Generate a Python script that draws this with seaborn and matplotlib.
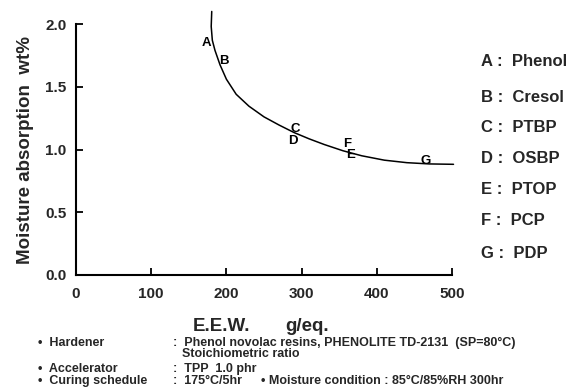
import matplotlib
matplotlib.use("Agg")
import matplotlib.pyplot as plt
import seaborn as sns
import pandas as pd

# Curve
curve_x = [180.5, 179.8, 181.3, 184.8, 191.5, 200.0, 213.0, 230.0, 250.0, 270.0,
           290.0, 310.0, 330.0, 355.0, 380.0, 410.0, 440.0, 470.0, 502.0]
curve_y = [2.10, 1.98, 1.87, 1.79, 1.675, 1.56, 1.44, 1.345, 1.26, 1.195,
           1.135, 1.085, 1.04, 0.99, 0.95, 0.915, 0.895, 0.885, 0.882]

# Point labels
point_labels = ["A", "B", "C", "D", "E", "F", "G"]
point_x = [174, 196, 292, 289, 365, 360, 465]
point_y = [1.846, 1.708, 1.16, 1.07, 0.955, 1.045, 0.911]

legend_names = ["Phenol", "Cresol", "PTBP", "OSBP", "PTOP", "PCP", "PDP"]

x_ticks = [0, 100, 200, 300, 400, 500]
y_ticks = [0.0, 0.5, 1.0, 1.5, 2.0]

sns.set_theme(style="ticks")
plt.rcParams["font.family"] = ["Liberation Sans", "DejaVu Sans"]
plt.rcParams["font.weight"] = "bold"

fig = plt.figure(figsize=(5.74, 3.91), dpi=100)
ax = fig.add_axes([76 / 574, 1 - 275 / 391, (452 - 76) / 574, (275 - 24) / 391])

df = pd.DataFrame({"x": curve_x, "y": curve_y})
sns.lineplot(data=df, x="x", y="y", sort=False, estimator=None, color="black",
             linewidth=1.1, ax=ax)
for line in ax.lines:
    line.set_clip_on(False)
    line.set_solid_joinstyle("round")

for lab, px, py in zip(point_labels, point_x, point_y):
    ax.text(px, py, lab, ha="center", va="center", fontsize=9.5, fontweight="bold",
            color="black")

ax.set_xlim(0, 500)
ax.set_ylim(0, 2.0)
ax.set_xticks(x_ticks)
ax.set_yticks(y_ticks)
ax.set_xticklabels([str(v) for v in x_ticks], fontsize=11, fontweight="bold")
ax.set_yticklabels([f"{v:.1f}" for v in y_ticks], fontsize=11, fontweight="bold")
ax.tick_params(direction="in", length=5, width=1.3, color="black")
ax.tick_params(axis="x", pad=9)
ax.tick_params(axis="y", pad=7)
for s in ["top", "right"]:
    ax.spines[s].set_visible(False)
for s in ["left", "bottom"]:
    ax.spines[s].set_linewidth(1.5)
    ax.spines[s].set_color("black")
ax.set_xlabel("")
ax.set_ylabel("Moisture absorption  wt%", fontsize=13.5, fontweight="bold", labelpad=8)

# x label
fig.text(193 / 574, 1 - 331 / 391, "E.E.W.", fontsize=13.5, fontweight="bold", ha="left", va="baseline")
fig.text(285 / 574, 1 - 331 / 391, "g/eq.", fontsize=13.5, fontweight="bold", ha="left", va="baseline")

# legend
leg_y = [62, 97, 127, 158, 189, 221, 254]
for lab, name, yy in zip(point_labels, legend_names, leg_y):
    fig.text(481 / 574, 1 - yy / 391, f"{lab} :  {name}", fontsize=12,
             fontweight="bold", ha="left", va="center")

# notes
fs = 9
notes = [
    (38, 346, "•  Hardener"), (173, 346, ":  Phenol novolac resins, PHENOLITE TD-2131  (SP=80°C)"),
    (182, 357, "Stoichiometric ratio"),
    (38, 372, "•  Accelerator"), (173, 372, ":  TPP  1.0 phr"),
    (38, 384, "•  Curing schedule"), (173, 384, ":  175°C/5hr"),
    (261, 384, "• Moisture condition : 85°C/85%RH 300hr"),
]
for xx, yy, t in notes:
    fig.text(xx / 574, 1 - yy / 391, t, fontsize=fs, fontweight="bold", ha="left", va="baseline")

fig.savefig("out.png", dpi=100, facecolor="white")
